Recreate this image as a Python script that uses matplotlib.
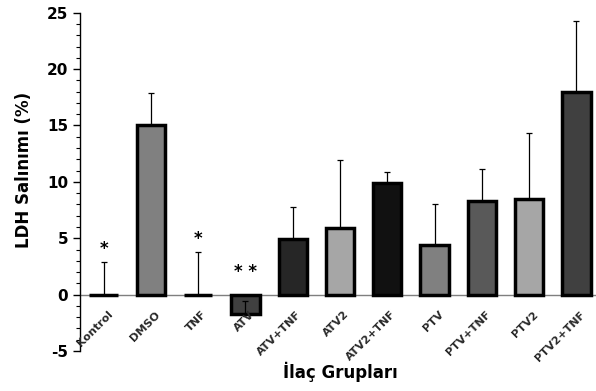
"""LDH release by drug group, bar chart with error bars."""

import matplotlib

matplotlib.use("Agg")
import matplotlib.pyplot as plt
import numpy as np

plt.rcParams["axes.unicode_minus"] = False

groups = ["Kontrol", "DMSO", "TNF", "ATV", "ATV+TNF", "ATV2", "ATV2+TNF",
          "PTV", "PTV+TNF", "PTV2", "PTV2+TNF"]
ldh = [0.0, 15.0, 0.0, -1.7, 4.9, 5.9, 9.9, 4.4, 8.3, 8.5, 18.0]
err_top = [2.9, 17.9, 3.8, -0.6, 7.8, 11.9, 10.9, 8.0, 11.1, 14.3, 24.3]
fills = ["#000000", "#808080", "#000000", "#404040", "#262626", "#a6a6a6",
         "#111111", "#808080", "#595959", "#a6a6a6", "#404040"]
stars = {"Kontrol": "*", "TNF": "*", "ATV": "* *"}

x = np.arange(len(groups))
ldh = np.array(ldh)
err = np.array(err_top) - ldh

fig = plt.figure(figsize=(5.96, 3.91), dpi=100)
ax = fig.add_axes([80 / 596, 0.1023, 520 / 596, 0.8652])

ax.axhline(0, color="#7f7f7f", lw=1.0, zorder=1)
ax.bar(x, ldh, width=0.6, color=fills, edgecolor="black", linewidth=2.5,
       zorder=2)
# error lines drawn from the bar end upward only
ax.errorbar(x, ldh, yerr=[np.zeros_like(err), err], fmt="none",
            ecolor="black", elinewidth=0.9, capsize=2.5, capthick=0.9, zorder=3)

for i, name in enumerate(groups):
    ax.text(i + 0.08, -1.3, name, rotation=45, rotation_mode="anchor",
            ha="right", va="top", fontsize=8, fontweight="bold",
            color="#2a2a2a")
    if name in stars:
        ax.text(i, max(err_top[i], 0.9) + 0.35, stars[name], ha="center",
                va="bottom", fontsize=12, fontweight="bold")

ax.set_xlim(-0.5, 10.5)
ax.set_ylim(-5, 25)
ax.set_yticks(np.arange(-5, 26, 5))
ax.set_yticks(np.arange(-5, 26, 1), minor=True)
ax.set_xticks([])
ax.tick_params(axis="y", which="major", length=5, width=1, labelsize=11)
ax.tick_params(axis="y", which="minor", length=3, width=0.8)
for lab in ax.get_yticklabels():
    lab.set_fontweight("bold")

for side in ["top", "right", "bottom"]:
    ax.spines[side].set_visible(False)
ax.spines["left"].set_linewidth(1.0)

ax.set_ylabel("LDH Salınımı (%)", fontsize=12, fontweight="bold")
ax.yaxis.set_label_coords(-0.09, 0.535)
fig.text(340 / 596, 1 - 372 / 391, "İlaç Grupları", ha="center", va="center",
         fontsize=12, fontweight="bold")

fig.savefig("out.png", dpi=100)
